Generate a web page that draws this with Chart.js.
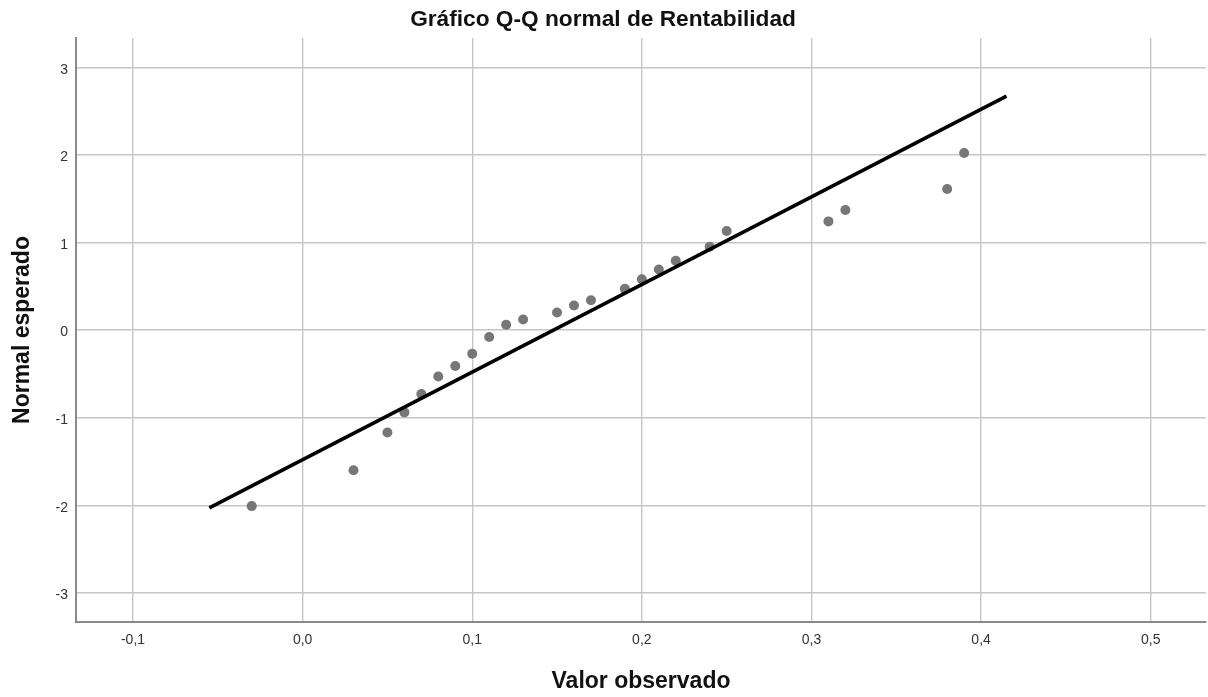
<!DOCTYPE html>
<html lang="es">
<head>
<meta charset="utf-8">
<title>Gráfico Q-Q normal de Rentabilidad</title>
<script src="https://cdn.jsdelivr.net/npm/chart.js@4.4.1/dist/chart.umd.min.js"></script>
<style>
  html, body { margin: 0; padding: 0; background: #fff; }
  #wrap { width: 1208px; height: 697px; }
</style>
</head>
<body>
<div id="wrap"><canvas id="qqChart"></canvas></div>
<script>
// observed values and their expected normal scores
const observed = [-0.03, 0.03, 0.05, 0.06, 0.07, 0.08, 0.09, 0.10, 0.11, 0.12, 0.13, 0.15,
  0.16, 0.17, 0.19, 0.20, 0.21, 0.22, 0.24, 0.25, 0.31, 0.32, 0.38, 0.39];
const expected = [-2.01, -1.60, -1.17, -0.94, -0.73, -0.53, -0.41, -0.27, -0.08, 0.06, 0.12, 0.20,
  0.28, 0.34, 0.47, 0.58, 0.69, 0.79, 0.95, 1.13, 1.24, 1.37, 1.61, 2.02];

// reference line end points
const lineX = [-0.055, 0.415];
const lineY = [-2.03, 2.67];

// axis ticks
const xTicks = [-0.1, 0.0, 0.1, 0.2, 0.3, 0.4, 0.5];
const yTicks = [-3, -2, -1, 0, 1, 2, 3];

const fontFamily = '"Liberation Sans", Arial, sans-serif';

const points = [];
for (let i = 0; i < observed.length; i++) {
  points.push({ x: observed[i], y: expected[i] });
}
const linePoints = [];
for (let i = 0; i < lineX.length; i++) {
  linePoints.push({ x: lineX[i], y: lineY[i] });
}

const config = {
  type: 'scatter',
  data: {
    datasets: [{
      label: 'Recta',
      data: linePoints,
      showLine: true,
      borderColor: '#000',
      borderWidth: 3.5,
      pointRadius: 0,
      order: 0
    },
    {
      label: 'Rentabilidad',
      data: points,
      backgroundColor: '#777',
      borderWidth: 0,
      pointRadius: 5,
      order: 1
    }]
  },
  options: {
    responsive: true,
    maintainAspectRatio: false,
    animation: false,
    layout: { autoPadding: false, padding: { top: 0, right: 2, bottom: 0, left: 0 } },
    plugins: {
      legend: { display: false },
      tooltip: { enabled: false },
      title: {
        display: true,
        text: 'Gráfico Q-Q normal de Rentabilidad',
        color: '#111',
        font: { family: fontFamily, size: 22.7, weight: 'bold' },
        padding: { top: 6.5, bottom: 4.3 }
      }
    },
    scales: {
      x: {
        type: 'linear',
        min: -0.1336,
        max: 0.5326,
        afterBuildTicks: (scale) => { scale.ticks = xTicks.map(v => ({ value: v })); },
        afterFit: (scale) => { scale.height = 75; },
        ticks: {
          color: '#333',
          padding: 10,
          font: { family: fontFamily, size: 14 },
          callback: (v) => v.toFixed(1).replace('.', ',')
        },
        grid: { color: '#c6c6c6', lineWidth: 1.4, drawTicks: false },
        border: { display: true, color: '#8a8a8a', width: 2 },
        title: {
          display: true,
          text: 'Valor observado',
          color: '#111',
          font: { family: fontFamily, size: 23, weight: 'bold' },
          padding: { top: 0, bottom: 1.2 }
        }
      },
      y: {
        type: 'linear',
        min: -3.333,
        max: 3.333,
        afterBuildTicks: (scale) => { scale.ticks = yTicks.map(v => ({ value: v })); },
        afterFit: (scale) => { scale.width = 76; },
        ticks: {
          color: '#333',
          padding: 8,
          labelOffset: 2.5,
          font: { family: fontFamily, size: 14 },
          callback: (v) => String(v)
        },
        grid: { color: '#c6c6c6', lineWidth: 1.4, drawTicks: false },
        border: { display: true, color: '#8a8a8a', width: 2 },
        title: {
          display: true,
          text: 'Normal esperado',
          color: '#111',
          font: { family: fontFamily, size: 23, weight: 'bold' },
          padding: { top: 9, bottom: 0 }
        }
      }
    }
  }
};

const qqChart = new Chart(document.getElementById('qqChart'), config);
</script>
</body>
</html>
